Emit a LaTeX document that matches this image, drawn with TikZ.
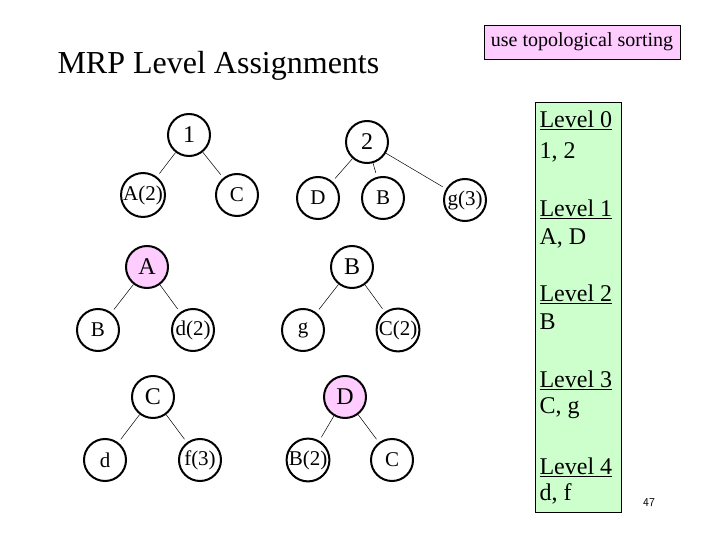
\documentclass[tikz,border=0pt]{standalone}
\usepackage{fontspec}
\setmainfont{Liberation Serif}
\usepackage{tikz}
\definecolor{pinkfill}{RGB}{255,204,255}
\definecolor{greenfill}{RGB}{204,255,204}
\tikzstyle{part}=[circle, draw, line width=2pt, minimum size=42pt, inner sep=0pt, font=\fontsize{21}{23}\selectfont]
\tikzstyle{root}=[part, font=\fontsize{24}{26}\selectfont]
\tikzstyle{parent}=[root, fill=pinkfill]
\tikzstyle{link}=[line width=0.5pt, shorten >=4pt]
\tikzstyle{lvl}=[anchor=west, font=\fontsize{24}{26}\selectfont]

\begin{document}
\begin{tikzpicture}[x=1pt, y=-1pt]
\useasboundingbox (0,0) rectangle (720,540);
% Title and note
    \node[anchor=west, font=\fontsize{32}{34}\selectfont] (title) at (54,66) {MRP Level Assignments};
    \node[draw, fill=pinkfill, line width=0.8pt, font=\fontsize{20}{22}\selectfont, minimum width=196pt, minimum height=34pt] (note) at (582,42) {use topological sorting};
% Level list
    \node[draw, fill=greenfill, line width=0.8pt, minimum width=86pt, minimum height=410pt] (list) at (578,307) {};
    \node[lvl] (l0) at (536,120) {\underline{Level 0}};
    \node[lvl] (v0) at (536,152) {1, 2};
    \node[lvl] (l1) at (536,209) {\underline{Level 1}};
    \node[lvl] (v1) at (536,238) {A, D};
    \node[lvl] (l2) at (536,294) {\underline{Level 2}};
    \node[lvl] (v2) at (536,322) {B};
    \node[lvl] (l3) at (536,380) {\underline{Level 3}};
    \node[lvl] (v3) at (536,408) {C, g};
    \node[lvl] (l4) at (536,467) {\underline{Level 4}};
    \node[lvl] (v4) at (536,494) {d, f};
    \node[font=\fontsize{12}{14}\selectfont\sffamily] (page) at (649,503) {47};
% Tree of 1
    \node[root] (n1) at (189,135) {1};
    \node[part] (n1a) at (143,195) {A(2)};
    \node[part] (n1c) at (237,195) {C};
    \draw[link] (n1) -- (n1a);
    \draw[link] (n1) -- (n1c);
% Tree of 2
    \node[root] (n2) at (367,142) {2};
    \node[part] (n2d) at (318,198) {D};
    \node[part] (n2b) at (383,198) {B};
    \node[part] (n2g) at (465,200) {g(3)};
    \draw[link] (n2) -- (n2d);
    \draw[link] (n2) -- (n2b);
    \draw[link] (n2) -- (n2g);
% Tree of A
    \node[parent] (na) at (147,267) {A};
    \node[part] (nab) at (98,330) {B};
    \node[part] (nad) at (193,330) {d(2)};
    \draw[link] (na) -- (nab);
    \draw[link] (na) -- (nad);
% Tree of B
    \node[root] (nb) at (352,267) {B};
    \node[part] (nbg) at (303,330) {g};
    \node[part] (nbc) at (398,330) {C(2)};
    \draw[link] (nb) -- (nbg);
    \draw[link] (nb) -- (nbc);
% Tree of C
    \node[root] (nc) at (153,397) {C};
    \node[part] (ncd) at (105,460) {d};
    \node[part] (ncf) at (200,460) {f(3)};
    \draw[link] (nc) -- (ncd);
    \draw[link] (nc) -- (ncf);
% Tree of D
    \node[parent] (nd) at (345,397) {D};
    \node[part] (ndb) at (308,460) {B(2)};
    \node[part] (ndc) at (392,460) {C};
    \draw[link] (nd) -- (ndb);
    \draw[link] (nd) -- (ndc);
\end{tikzpicture}
\end{document}
